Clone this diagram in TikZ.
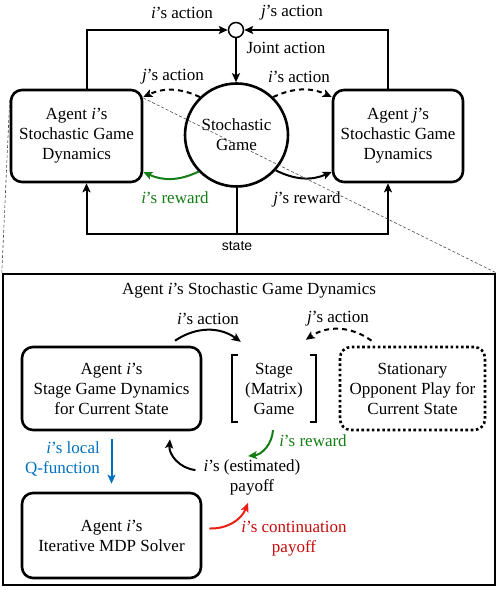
\documentclass[tikz,border=0pt]{standalone}
\usepackage{fontspec}
\setmainfont{Liberation Serif}
\setsansfont{Liberation Sans}
\usetikzlibrary{arrows.meta}
\definecolor{mygreen}{RGB}{20,125,20}
\definecolor{myblue}{RGB}{0,112,192}
\definecolor{myred}{RGB}{235,30,20}
\definecolor{mytxtred}{RGB}{200,10,10}
\begin{document}
\begin{tikzpicture}[x=1pt,y=-1pt,
  font=\fontsize{17}{20}\selectfont,
  arr/.style={line width=2pt,-{Stealth[length=9pt,width=8pt,inset=2pt]}},
  rbox/.style={draw,line width=2.6pt,rounded corners=11pt,align=center,inner sep=0pt},
  lbl/.style={inner sep=1pt,align=center},
  zoomline/.style={line width=0.6pt,dash pattern=on 3pt off 2pt,black!70}
]
\useasboundingbox (0,0) rectangle (498,593);
% ---------- top part ----------
\node[rbox,minimum width=131pt,minimum height=92pt] (lbox) at (76.5,136) {Agent \textit{i}’s\\Stochastic Game\\Dynamics};
\node[rbox,minimum width=130pt,minimum height=92pt] (rbox) at (398,136) {Agent \textit{j}’s\\Stochastic Game\\Dynamics};
\node[draw,circle,line width=2.6pt,minimum size=103pt,inner sep=0pt,align=center] (sg) at (236.5,135) {Stochastic\\Game};
\node[draw,circle,line width=1.5pt,minimum size=15pt,inner sep=0pt] (jn) at (236,30) {};
\draw[arr] ([xshift=10pt]lbox.north) |- (jn.west);
\draw[arr] ([xshift=-10pt]rbox.north) |- (jn.east);
\draw[arr] (jn.south) -- (jn.south |- sg.north);
\node[lbl] (la1) at (182,13) {\textit{i}’s action};
\node[lbl] (la2) at (292,13) {\textit{j}’s action};
\node[lbl] (la3) at (286,48) {Joint action};
\draw[line width=2pt] (sg.south) -- ++(0,46) coordinate (st);
\draw[arr] (st) -| ([xshift=10pt]lbox.south);
\draw[arr] (st) -| ([xshift=-10pt]rbox.south);
\node[lbl,font=\sffamily\fontsize{14}{16}\selectfont] (stl) at (237,246) {state};
\draw[arr,dashed,dash pattern=on 5pt off 4pt] (sg.134) to[bend right=25] ([yshift=39pt]lbox.east);
\draw[arr,dashed,dash pattern=on 5pt off 4pt] (sg.46) to[bend left=25] ([yshift=39pt]rbox.west);
\draw[arr,mygreen] (sg.224) to[bend left=25] ([yshift=-36pt]lbox.east);
\draw[arr] (sg.-42) to[bend right=25] ([yshift=-36pt]rbox.west);
\node[lbl] (la4) at (173,77) {\textit{j}’s action};
\node[lbl] (la5) at (299,77) {\textit{i}’s action};
\node[lbl,text=mygreen] (la6) at (175,198) {\textit{i}’s reward};
\node[lbl] (la7) at (307,199) {\textit{j}’s reward};
% ---------- bottom box ----------
\node[draw,line width=2.4pt,minimum width=492pt,minimum height=311pt,inner sep=0pt] (outer) at (249,429.5) {};
\draw[zoomline] ([yshift=38pt]lbox.east) -- (outer.north east);
\draw[zoomline] ([yshift=36pt]lbox.west) -- (outer.north west);
\node[lbl] (title) at (249,290) {Agent \textit{i}’s Stochastic Game Dynamics};
\node[rbox,minimum width=179pt,minimum height=83pt] (sbox) at (111.5,388.5) {Agent \textit{i}’s\\Stage Game Dynamics\\for Current State};
\node[minimum width=84pt,minimum height=67pt,inner sep=0pt,align=center] (stg) at (274,388.5) {Stage\\(Matrix)\\Game};
\draw[line width=2pt] ([xshift=6pt]stg.north west) -- (stg.north west) -- (stg.south west) -- ++(6,0);
\draw[line width=2pt] ([xshift=-6pt]stg.north east) -- (stg.north east) -- (stg.south east) -- ++(-6,0);
\node[draw,line width=2.6pt,dash pattern=on 2.6pt off 2.6pt,rounded corners=11pt,align=center,minimum width=145pt,minimum height=83pt,inner sep=0pt] (opp) at (412.5,388.5) {Stationary\\Opponent Play for\\Current State};
\node[rbox,minimum width=179pt,minimum height=85pt] (mdp) at (111.5,535.5) {Agent \textit{i}’s\\Iterative MDP Solver};
\node[lbl] (pay) at (252,477) {\textit{i}’s (estimated)\\payoff};
\draw[arr] ([shift={(63.5pt,5pt)}]sbox.north) to[bend left=35] ([shift={(9pt,13pt)}]stg.north west);
\draw[arr,dashed,dash pattern=on 5pt off 4pt] ([shift={(-41pt,5pt)}]opp.north) to[bend right=35] ([shift={(74pt,15pt)}]stg.north west);
\node[lbl] (lb1) at (208,319) {\textit{i}’s action};
\node[lbl] (lb2) at (338,319) {\textit{j}’s action};
\draw[arr,mygreen] ([shift={(-1pt,-8pt)}]stg.south) to[bend left=40] ([shift={(-4pt,2pt)}]pay.north);
\node[lbl,text=mygreen] (lb3) at (313,441) {\textit{i}’s reward};
\draw[arr] ([shift={(-7pt,7pt)}]pay.west) to[bend left=45] ([shift={(58.5pt,-8pt)}]sbox.south);
\draw[arr,myblue] ([yshift=-8pt]sbox.south) -- ([yshift=8pt]mdp.north);
\node[lbl,align=right,text=myblue,anchor=east] (lb4) at (101,459) {\textit{i}’s local\\Q-function};
\draw[arr,myred] ([shift={(7pt,7pt)}]mdp.east) to[bend right=35] ([shift={(-4pt,-7pt)}]pay.south);
\node[lbl,text=mytxtred] (lb5) at (294,538.5) {\textit{i}’s continuation\\payoff};
\end{tikzpicture}
\end{document}
